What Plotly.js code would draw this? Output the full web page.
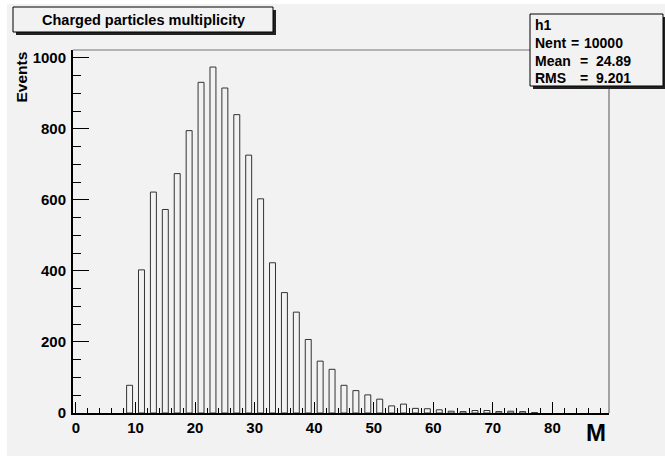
<!DOCTYPE html>
<html>
<head>
<meta charset="utf-8">
<script src="https://cdn.plot.ly/plotly-3.0.1.min.js"></script>
<style>
  html, body { margin: 0; padding: 0; background: #ffffff; }
  #plot { position: absolute; left: 7px; top: 4px; width: 658px; height: 452px; }
</style>
</head>
<body>
<div id="plot"></div>
<script>
// ---- data (bins of width 2) ----
const binCenters = [9, 11, 13, 15, 17, 19, 21, 23, 25, 27, 29, 31, 33, 35, 37, 39, 41, 43, 45, 47,
                    49, 51, 53, 55, 57, 59, 61, 63, 65, 67, 69, 71, 73, 75, 77];
const binCounts  = [78, 403, 622, 573, 674, 795, 931, 974, 915, 840, 726, 603, 423, 339, 284, 207, 146, 123, 78, 63,
                    51, 39, 20, 25, 13, 12, 9, 5, 4, 7, 7, 4, 5, 4, 1];
const yTickVals = [0, 200, 400, 600, 800, 1000];
const xTickVals = [0, 10, 20, 30, 40, 50, 60, 70, 80];
const chartTitle = "Charged particles multiplicity";
const xTitle = "M";
const yTitle = "Events";
const statsName = "h1";
const statsLabels = ["Nent", "Mean", "RMS"];
const statsValues = ["10000", "24.89", "9.201"];

// ---- geometry helpers (page pixels -> paper coords) ----
const OX = 7, OY = 4, ML = 66, MT = 46, PW = 536, PH = 363;
const xp = px => (px - OX - ML) / PW;
const yp = py => 1 - (py - OY - MT) / PH;

const FONT = "'Liberation Sans', Arial, Helvetica, sans-serif";
const BG = "#f2f2f2";

const trace = {
  type: "bar",
  x: binCenters,
  y: binCounts,
  width: 1,
  marker: { color: "rgba(0,0,0,0)", line: { color: "#333333", width: 1 } },
  hoverinfo: "skip"
};

const shapes = [
  // frame top & right
  { type: "line", xref: "paper", yref: "paper", x0: 0, x1: 1, y0: 1, y1: 1, line: { color: "#777777", width: 1 }, layer: "above" },
  { type: "line", xref: "paper", yref: "paper", x0: 1, x1: 1, y0: 0, y1: 1, line: { color: "#555555", width: 1 }, layer: "above" },
  // title box shadow + box
  { type: "rect", xref: "paper", yref: "paper", x0: xp(16), x1: xp(276), y0: yp(35), y1: yp(10), fillcolor: "#222222", line: { width: 0 }, layer: "above" },
  { type: "rect", xref: "paper", yref: "paper", x0: xp(13), x1: xp(273), y0: yp(32), y1: yp(7), fillcolor: BG, line: { color: "#000000", width: 1 }, layer: "above" },
  // stats box shadow + box
  { type: "rect", xref: "paper", yref: "paper", x0: xp(533), x1: xp(666), y0: yp(89), y1: yp(17), fillcolor: "#222222", line: { width: 0 }, layer: "above" },
  { type: "rect", xref: "paper", yref: "paper", x0: xp(530), x1: xp(663), y0: yp(86), y1: yp(14), fillcolor: BG, line: { color: "#000000", width: 1 }, layer: "above" }
];

const ann = (text, x, y, size, xanchor, yanchor, extra) => Object.assign({
  text: text, xref: "paper", yref: "paper", x: x, y: y, xanchor: xanchor, yanchor: yanchor,
  showarrow: false, borderpad: 0, font: { family: FONT, size: size, color: "#000000", weight: "bold" }
}, extra || {});

const annotations = [
  ann(chartTitle, xp(143), yp(20), 14.5, "center", "middle"),
  ann(xTitle, xp(607), yp(433), 24, "right", "middle"),
  ann(yTitle, xp(21), yp(77.5), 15.5, "center", "middle", { textangle: -90 }),
  ann(statsName, xp(534), yp(25), 14, "left", "middle")
];
const lineY = [43, 61, 78.5];
const eqX = [570, 579, 579];
const valX = [583, 595, 595];
for (let i = 0; i < statsLabels.length; i++) {
  annotations.push(ann(statsLabels[i], xp(534), yp(lineY[i]), 14, "left", "middle"));
  annotations.push(ann("=", xp(eqX[i]), yp(lineY[i]), 14, "left", "middle"));
  annotations.push(ann(statsValues[i], xp(valX[i]), yp(lineY[i]), 14, "left", "middle"));
}

const layout = {
  width: 658, height: 452,
  margin: { l: ML, r: 658 - ML - PW, t: MT, b: 452 - MT - PH, pad: 0 },
  paper_bgcolor: BG, plot_bgcolor: BG,
  showlegend: false,
  bargap: 0,
  font: { family: FONT, size: 15, color: "#000000" },
  xaxis: {
    range: [-0.5, 89.5], tickmode: "array", tickvals: xTickVals, ticktext: xTickVals.map(String),
    ticks: "inside", ticklen: 11, tickwidth: 1, tickcolor: "#000000",
    minor: { dtick: 2, tick0: 0, ticks: "inside", ticklen: 5.5, tickwidth: 1, tickcolor: "#000000", showgrid: false },
    showline: true, linecolor: "#000000", linewidth: 2,
    showgrid: false, zeroline: false,
    tickfont: { family: FONT, size: 15, weight: "bold", color: "#000000" },
    ticklabelstandoff: 0
  },
  yaxis: {
    range: [0, 1022], tickmode: "array", tickvals: yTickVals, ticktext: yTickVals.map(String),
    ticks: "inside", ticklen: 16, tickwidth: 1, tickcolor: "#000000",
    minor: { dtick: 50, tick0: 0, ticks: "inside", ticklen: 8, tickwidth: 1, tickcolor: "#000000", showgrid: false },
    showline: true, linecolor: "#000000", linewidth: 2,
    showgrid: false, zeroline: false,
    tickfont: { family: FONT, size: 15, weight: "bold", color: "#000000" },
    ticklabelstandoff: 2
  },
  shapes: shapes,
  annotations: annotations
};

Plotly.newPlot("plot", [trace], layout, { displayModeBar: false, staticPlot: true });
</script>
</body>
</html>
